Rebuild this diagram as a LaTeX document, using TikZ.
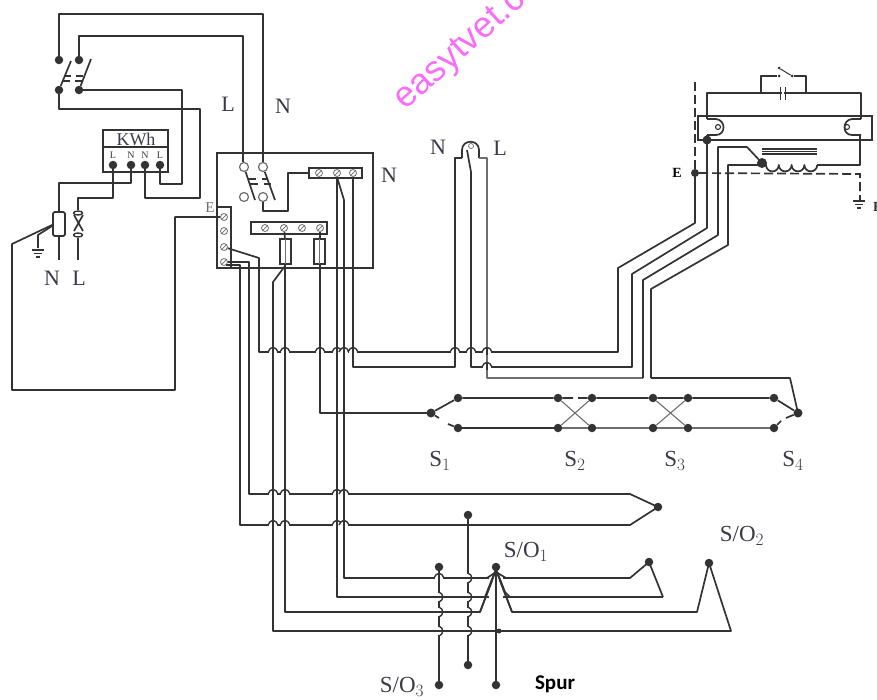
\documentclass[tikz,border=0pt]{standalone}
\usetikzlibrary{shapes.geometric}
\usepackage{fontspec}
\setmainfont{Liberation Serif}
\newfontfamily\wmfont{Liberation Sans}
\newfontfamily\spurfont{Carlito}
\definecolor{ink}{HTML}{333333}
\definecolor{soft}{HTML}{6E6E6E}
\definecolor{lbl}{HTML}{3A3A4A}
\definecolor{wm}{HTML}{FA6CFA}
\tikzset{
  wire/.style={draw=ink,line width=1.7pt,line join=round},
  thin wire/.style={draw=soft,line width=1.4pt,line join=round},
  dash wire/.style={draw=ink,line width=1.7pt,dash pattern=on 9pt off 4pt},
  dot/.style={circle,fill=ink,draw=none,minimum size=8.5pt,inner sep=0pt},
  smalldot/.style={circle,fill=ink,draw=none,minimum size=3pt,inner sep=0pt},
  term/.style={circle,draw=soft,line width=1.2pt,fill=white,minimum size=9pt,inner sep=0pt},
  screw/.style={circle,draw=soft,line width=.8pt,fill=white,minimum size=7pt,inner sep=0pt,
    path picture={\draw[soft,line width=.7pt] (path picture bounding box.south west)--(path picture bounding box.north east);}},
  lab/.style={text=lbl,inner sep=0pt,font=\fontsize{22}{22}\selectfont},
  sublab/.style={text=lbl,inner sep=0pt,font=\fontsize{23}{23}\selectfont},
  tiny lab/.style={text=lbl,inner sep=0pt,font=\fontsize{10}{10}\selectfont},
  boxline/.style={draw=ink,line width=1.8pt,inner sep=0pt},
}
\newcommand{\HH}[2]{%
  \draw[white,line width=3.4pt] (#1-3.6,#2)--(#1+3.6,#2);
  \draw[wire,line width=1.4pt] (#1-5,#2) .. controls (#1-3,#2-6) and (#1+3,#2-6) .. (#1+5,#2);
  \draw[wire] (#1,#2-4)--(#1,#2+3);}
\newcommand{\VH}[2]{%
  \draw[white,line width=3.4pt] (#1,#2-3.6)--(#1,#2+3.6);
  \draw[wire,line width=1.4pt] (#1,#2-5) .. controls (#1+5,#2-3) and (#1+5,#2+3) .. (#1,#2+5);
  \draw[wire] (#1-3,#2)--(#1+3,#2);}
\newcommand{\Earth}[3]{%
  \draw[wire] (#1-#3,#2)--(#1+#3,#2) (#1-#3*.65,#2+3.5)--(#1+#3*.65,#2+3.5) (#1-#3*.3,#2+7)--(#1+#3*.3,#2+7);}
\begin{document}
\begin{tikzpicture}[x=1pt,y=-1pt]
\useasboundingbox (0,0) rectangle (877,699);
% watermark
\node[text=wm,rotate=42,anchor=base west,inner sep=0pt,font=\wmfont\fontsize{36}{36}\selectfont] (wmark) at (405.8,111) {easytvet.c};

% ---------- main isolator ----------
\node[dot] (mi1) at (59,60) {};
\node[dot] (mi2) at (79,60) {};
\node[dot] (mi3) at (59,90) {};
\node[dot] (mi4) at (79,90) {};
\draw[wire] (mi3) -- (71,61) (mi4) -- (91,59);
\draw[wire] (64,76)--(71,76) (63,81)--(70,81) (76,76)--(83,76) (75,81)--(82,81);

% ---------- meter ----------
\node[boxline,minimum width=65pt,minimum height=42pt] (kwh) at (135.5,151) {};
\draw[wire] (kwh.west |- 0,147)--(kwh.east |- 0,147);
\node[tiny lab,font=\fontsize{18}{18}\selectfont] (kwht) at (136,139.5) {KWh};
\node[tiny lab] (m1) at (113,155) {L};
\node[tiny lab] (m2) at (131,155) {N};
\node[tiny lab] (m3) at (145,155) {N};
\node[tiny lab] (m4) at (160,155) {L};
\node[dot] (k1) at (113,165) {};
\node[dot] (k2) at (131,165) {};
\node[dot] (k3) at (145,165) {};
\node[dot] (k4) at (160,165) {};
\draw[wire] (mi4) -- (182,90) -- (182,184) -- (160,184) -- (k4);
\draw[wire] (mi3) -- (59,109) -- (200,109) -- (200,198) -- (145,198) -- (k3);

% ---------- cut-out and neutral link ----------
\node[boxline,rounded corners=2pt,minimum width=12pt,minimum height=24pt] (cut) at (59,224) {};
\coordinate (nend) at (59,260);
\draw[wire] (cut.south) -- (nend);
\draw[wire] (k2) -- (131,183) -- (59,183) -- (cut.north);
\node[draw=ink,line width=1.4pt,ellipse,minimum width=9pt,minimum height=4pt,inner sep=0pt] (lo1) at (78,213) {};
\node[draw=ink,line width=1.4pt,ellipse,minimum width=9pt,minimum height=4pt,inner sep=0pt] (lo2) at (78,235) {};
\draw[wire] (74,215)--(83,231) (83,215)--(74,231);
\coordinate (lend) at (78,260);
\draw[wire] (lo2.south) -- (lend);
\draw[wire] (k1) -- (113,198) -- (78,198) -- (lo1.north);
\coordinate (gnd1) at (38,248);
\draw[wire] (cut.west) ++(0,2) -- (38,235) -- (gnd1);
\Earth{38}{250}{6}
\node[lab] (lN1) at (52,278) {N};
\node[lab] (lL1) at (79,278) {L};

% ---------- consumer unit ----------
\node[boxline,minimum width=156pt,minimum height=115pt] (cu) at (295,210.5) {};
\node[term] (cs1) at (244,167) {};
\node[term] (cs2) at (263,167) {};
\node[term] (cs3) at (244,197) {};
\node[term] (cs4) at (263,197) {};
\draw[wire] (cs1) -- (255,200) (cs2) -- (275,200);
\draw[wire] (248,179)--(256,179) (250,184)--(258,184) (262,179)--(268,179) (264,184)--(271,184);
\draw[wire] (mi1) -- (59,14) -- (263,14) -- (cs2);
\draw[wire] (mi2) -- (79,36) -- (243,36) -- (cs1.north -| 243,0);
% neutral bar
\node[boxline,fill=white,minimum width=53pt,minimum height=10pt] (nbar) at (335.5,173) {};
\node[screw] (n1) at (319,173) {};
\node[screw] (n2) at (337,173) {};
\node[screw] (n3) at (353,173) {};
\draw[wire] (cs4) -- (263,211) -- (288,211) -- (288,173) -- (nbar.west);
% fuse bar
\node[boxline,fill=white,minimum width=76pt,minimum height=12pt] (fbar) at (289,228) {};
\node[screw] (f1) at (265,228) {};
\node[screw] (f2) at (284,228) {};
\node[screw] (f3) at (302,228) {};
\node[screw] (f4) at (320,228) {};
% earth bar
\node[boxline,fill=white,minimum width=14pt,minimum height=61pt] (ebar) at (224,237.5) {};
\node[screw] (e1) at (224,217) {};
\node[screw] (e2) at (224,231) {};
\node[screw] (e3) at (224,247) {};
\node[screw] (e4) at (224,262) {};
\draw[wire] (cut.west) ++(0,1) -- (12,244) -- (12,390) -- (175,390) -- (175,217) -- (e1);

% ---------- labels at top ----------
\node[lab] (lL2) at (228,104) {L};
\node[lab] (lN2) at (283,106) {N};
\node[lab] (lN3) at (389,175) {N};
\node[lab,text=soft,font=\fontsize{15}{15}\selectfont] (lE1) at (210,208) {E};
\node[lab] (lN4) at (438,147) {N};
\node[lab] (lL4) at (500,148) {L};

% ---------- horizontals and long runs ----------
\coordinate (lampa) at (462,158);
\coordinate (lampb) at (479,158);
\node[smalldot,fill=none,draw=soft,line width=.7pt,minimum size=5pt] (lampc) at (471,146) {};
\draw[wire] (e3) -- (259,258) -- (259,352) -- (618,352) -- (618,268) -- (695,223) -- (695,173);
\draw[wire] (n3) -- (353,367) -- (455,367) -- (455,158) -- (lampa);
\draw[wire] (lampa) -- (462,150) .. controls (462,139) and (479,139) .. (479,150) -- (lampb);
\draw[thin wire] (lampb) -- (487,158) -- (487,378) -- (643,378);
\draw[wire] (643,378) -- (643,280) -- (718,235) -- (718,147) -- (747,147) -- (762,163);
\draw[wire] (467,150) -- (471,172) -- (471,367) -- (632,367) -- (632,274) -- (707,228) -- (707,140);
\draw[wire] (n2) -- (337,597) -- (663,597);
\draw[wire] (n2) ++(0,4) -- (344,200) -- (344,578) -- (630,578) -- (649,562);
\draw[wire] (649,562) -- (663,597);
\draw[wire] (e4) -- (249,262) -- (249,494) -- (630,494) -- (658,507);
\draw[wire] (226,265) -- (240,265) -- (240,525) -- (630,525) -- (658,507);
\node[boxline,fill=white,minimum width=11pt,minimum height=25pt] (fu1) at (285.5,251.5) {};
\node[boxline,fill=white,minimum width=11pt,minimum height=25pt] (fu2) at (319.5,251.5) {};
\draw[soft,line width=.6pt] (fu1.north) -- (fu1.south) (fu2.north) -- (fu2.south);
\draw[wire] (f2) -- (285,239) (285,264) -- (285,612) -- (480,612) -- (496,570) -- (512,612) -- (697,612) -- (709,563) -- (731,631) -- (273,631) -- (273,282) -- (285,266);
\draw[wire] (f4) -- (320,239) (320,264) -- (320,413) -- (431,413);
\draw[wire] (651,378) -- (790,378) -- (798,413);
\draw[wire] (651,378) -- (651,289) -- (728,245) -- (728,165) -- (762,165);

% ---------- switches ----------
\node[dot,minimum size=9pt] (s1c) at (431,413) {};
\node[dot] (s1a) at (458,398) {};
\node[dot] (s1b) at (458,428) {};
\node[dot] (s2a) at (558,398) {};
\node[dot] (s2b) at (558,428) {};
\node[dot] (s2c) at (592,398) {};
\node[dot] (s2d) at (592,428) {};
\node[dot] (s3a) at (653,398) {};
\node[dot] (s3b) at (653,428) {};
\node[dot] (s3c) at (688,398) {};
\node[dot] (s3d) at (688,428) {};
\node[dot] (s4a) at (774,398) {};
\node[dot] (s4b) at (774,428) {};
\node[dot,minimum size=9pt] (s4c) at (798,413) {};
\draw[wire] (s1c) -- (s1a);
\draw[wire] (s1c) -- (439,418) (448,424) -- (s1b);
\draw[wire] (s1a) -- (s2a) -- (573,398) (578,398) -- (s2c) -- (s3a) -- (s3c) -- (s4a) -- (s4c);
\draw[wire] (s1b) -- (s2b);
\draw[thin wire] (s2b) -- (s2d) -- (s3b) -- (s3d) -- (s4b);
\draw[thin wire,line width=1.1pt] (s2a) -- (s2d) (s2b) -- (s2c) (s3a) -- (s3d) (s3b) -- (s3c);
\draw[wire] (s4b) -- (781,421) (786,418) -- (s4c);
\node[sublab] (lS1) at (440,461) {S$_1$};
\node[sublab] (lS2) at (575,461) {S$_2$};
\node[sublab] (lS3) at (675,461) {S$_3$};
\node[sublab] (lS4) at (793,461) {S$_4$};

% ---------- socket outlets ----------
\node[dot] (sc) at (658,507) {};
\node[dot] (so1) at (649,562) {};
\node[dot] (so2) at (709,563) {};
\node[dot] (st1) at (439,567) {};
\node[dot] (st2) at (439,685) {};
\node[dot] (sm1) at (468,515) {};
\node[dot] (sm2) at (468,665) {};
\node[dot] (su1) at (496,567) {};
\node[dot] (su2) at (496,685) {};
\draw[wire] (st1) -- (st2);
\draw[wire] (sm1) -- (sm2);
\draw[white,line width=3.4pt] (489,578)--(503,578) (489,597)--(503,597);
\draw[wire] (su1) -- (su2);
\draw[wire] (485,597) -- (496,569) -- (505,592) -- (510,597);
\draw[wire] (487,578) -- (496,572) -- (506,578);
\draw[wire] (480,612) -- (496,570) -- (512,612);
\node[circle,fill=ink,minimum size=5pt,inner sep=0pt] (sj) at (499,631) {};
\node[sublab] (lSO1) at (526,552) {S/O$_1$};
\node[sublab] (lSO2) at (742,536) {S/O$_2$};
\node[sublab] (lSO3) at (402,687) {S/O$_3$};
\node[inner sep=0pt,text=black,font=\spurfont\bfseries\fontsize{21}{21}\selectfont] (lSpur) at (555,684) {Spur};

% ---------- crossings ----------
\foreach \x/\y in {273/352,285/352,320/352,337/352,344/352,353/352,
   455/352,471/352,487/352,487/367,
   273/494,285/494,337/494,344/494,273/525,285/525,337/525,344/525,
   439/578}{\HH{\x}{\y}}
\foreach \x/\y in {439/597,439/612,439/631,468/578,468/597,468/612,468/631}{\VH{\x}{\y}}

% ---------- fluorescent fitting ----------
\node[draw=ink,line width=1.5pt,minimum width=174pt,minimum height=24pt,inner sep=0pt] (tube) at (785,128) {};
\draw[wire,line width=2pt] (707,140)--(872,140);
\coordinate (el) at (707,119);
\coordinate (er) at (861,119);
\node[dot,minimum size=9pt] (ld) at (707,140) {};
\node[dot,minimum size=10pt] (ch) at (762,163) {};
\node[dot,minimum size=8pt] (eE) at (695,173) {};
\draw[wire] (ld) -- (707,135);
\draw[wire] (el) -- (707,93) -- (861,93) -- (er);
\draw[wire] (el) -- (716,119) .. controls (726,120) and (726,135) .. (716,135) -- (707,135);
\draw[wire] (er) -- (852,119) .. controls (842,120) and (842,135) .. (852,135) -- (861,135);
\node[circle,draw=ink,line width=1.1pt,minimum size=5pt,inner sep=0pt] (eli) at (718,127) {};
\node[circle,draw=ink,line width=1.1pt,minimum size=5pt,inner sep=0pt] (eri) at (847,127) {};
% capacitor
\draw[white,line width=4pt] (782,93)--(784,93);
\draw[wire] (780.5,87)--(780.5,100) (785.5,87)--(785.5,100);
% starter
\node[smalldot] (sta) at (779,76) {};
\node[smalldot] (stb) at (792,76) {};
\node[smalldot] (stc) at (779,68) {};
\draw[wire] (761,93) -- (761,76) -- (sta);
\draw[wire] (stb) -- (806,76) -- (806,93);
\draw[wire,line width=1pt] (stc) -- (stb);
% choke
\draw[wire] (ch) -- (766,165);
\draw[wire] (766,165) arc (180:0:6.4) arc (180:0:6.4) arc (180:0:6.4) arc (180:0:6.4);
\draw[wire] (817,165) -- (860,165) -- (860,135);
\draw[wire,line width=1.2pt] (762,149)--(817,149) (762,151.5)--(817,151.5) (762,154)--(817,154);
% earth
\draw[dash wire] (eE) -- (695,78);
\draw[dash wire] (eE) -- (860,174) -- (860,200);
\Earth{859}{201}{6}
\node[inner sep=0pt,text=black,font=\bfseries\fontsize{14}{14}\selectfont] (lE2) at (677,173) {E};
\node[inner sep=0pt,text=ink,anchor=west,font=\bfseries\fontsize{14}{14}\selectfont] (lE3) at (873,207) {E};
\end{tikzpicture}
\end{document}
